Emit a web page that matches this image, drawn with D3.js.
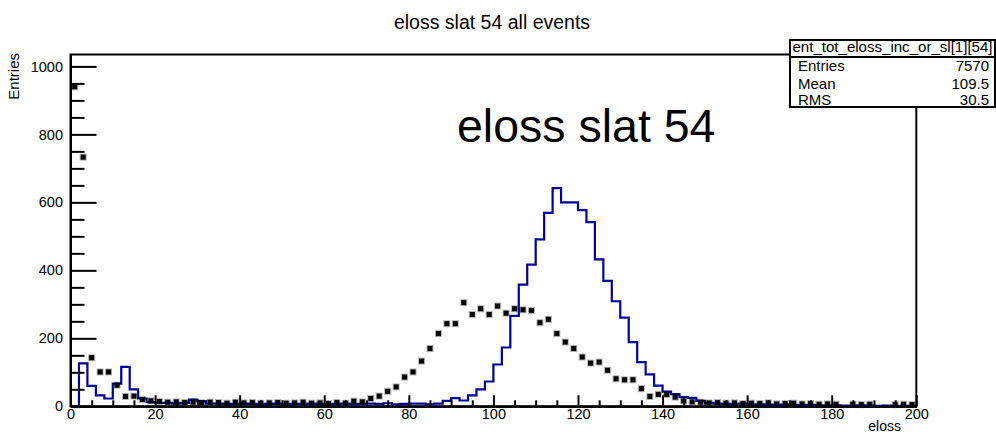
<!DOCTYPE html>
<html>
<head>
<meta charset="utf-8">
<script src="https://cdn.jsdelivr.net/npm/d3@7"></script>
<style>
  html, body { margin: 0; padding: 0; background: #fff; }
  svg { display: block; font-family: "Liberation Sans", Arial, sans-serif; }
</style>
</head>
<body>
<svg id="chart" width="996" height="434"></svg>
<script>
// eloss histograms, 100 bins of width 2 from 0 to 200
const binLow = d3.range(0, 200, 2);

// selected slat (blue outline)
const slatCounts = [
  0, 126, 60, 32, 23, 67, 116, 50, 23, 12,
  10, 10, 8, 10, 20, 15, 8, 8, 7, 6,
  8, 7, 6, 7, 8, 6, 7, 6, 8, 7,
  6, 7, 8, 6, 7, 8, 7, 9, 6, 7,
  8, 8, 6, 8, 16, 24, 17, 32, 50, 73,
  123, 173, 266, 358, 417, 491, 569, 642, 600, 600,
  577, 542, 432, 369, 309, 261, 189, 130, 94, 61,
  43, 36, 27, 25, 16, 10, 8, 7, 6, 8,
  5, 6, 5, 4, 5, 4, 3, 4, 3, 2,
  3, 2, 2, 3, 2, 1, 2, 1, 1, 1
];

// all events (black markers)
const allCounts = [
  940, 733, 143, 101, 101, 62, 29, 30, 20, 16,
  14, 12, 13, 11, 12, 10, 12, 11, 9, 12,
  10, 11, 9, 10, 11, 9, 10, 12, 9, 10,
  8, 11, 9, 15, 13, 23, 30, 44, 57, 86,
  101, 133, 170, 214, 243, 243, 305, 270, 287, 270,
  295, 274, 287, 284, 282, 246, 256, 214, 189, 170,
  145, 127, 130, 106, 81, 78, 78, 52, 29, 35,
  35, 27, 16, 13, 12, 10, 11, 9, 10, 8,
  9, 8, 10, 7, 8, 9, 7, 8, 6, 7,
  6, 0, 6, 5, 6, 0, 0, 5, 6, 5
];

const xMajor = d3.range(0, 201, 20);
const xMinor = d3.range(0, 201, 5).filter(v => v % 20 !== 0);
const yMajor = d3.range(0, 1001, 200);
const yMinor = d3.range(0, 1035, 50).filter(v => v % 200 !== 0);

const statsName = "ent_tot_eloss_inc_or_sl[1][54]";
const statsRows = [["Entries", "7570"], ["Mean", "109.5"], ["RMS", "30.5"]];

const svg = d3.select("#chart");

const x = d3.scaleLinear().domain([0, 200]).range([70.5, 916.3]);
const y = d3.scaleLinear().domain([0, 1035]).range([406.3, 54.5]);

// frame
svg.append("rect")
  .attr("x", x(0)).attr("y", y(1035))
  .attr("width", x(200) - x(0)).attr("height", y(0) - y(1035))
  .attr("fill", "none").attr("stroke", "#000").attr("stroke-width", 2);

// blue outline histogram
const stepPts = binLow.map((b, i) => [b, slatCounts[i]]);
stepPts.push([200, slatCounts[slatCounts.length - 1]]);
svg.append("path")
  .datum(stepPts)
  .attr("fill", "none")
  .attr("stroke", "#000099")
  .attr("stroke-width", 2.2)
  .attr("d", d3.line()
    .x(d => x(d[0]))
    .y(d => y(d[1]))
    .curve(d3.curveStepAfter));

// black markers at bin centres
svg.append("g")
  .selectAll("rect")
  .data(binLow.map((b, i) => ({ c: b + 1, v: allCounts[i] })).filter(d => d.v > 0))
  .join("rect")
  .attr("x", d => x(d.c) - 2.5)
  .attr("y", d => y(d.v) - 2.5)
  .attr("width", 5).attr("height", 5)
  .attr("fill", "#000")
  .attr("stroke", "rgba(0,0,0,0.3)")
  .attr("stroke-width", 2);

// axes
function styleAxis(g) {
  g.selectAll("path.domain").attr("stroke", "#000").attr("stroke-width", 2);
  g.selectAll(".tick line").attr("stroke", "#000").attr("stroke-width", 2);
  g.selectAll(".tick text")
    .attr("fill", "#000")
    .style("font-family", "'Liberation Sans', Arial, sans-serif")
    .style("font-size", "14.5px");
}

svg.append("g")
  .attr("transform", `translate(0,${y(0)})`)
  .call(d3.axisBottom(x).tickValues(xMinor).tickSize(-6).tickSizeOuter(0).tickFormat(""))
  .call(styleAxis);
svg.append("g")
  .attr("transform", `translate(0,${y(0)})`)
  .call(d3.axisBottom(x).tickValues(xMajor).tickSize(-11).tickSizeOuter(0).tickPadding(2).tickFormat(d3.format("d")))
  .call(styleAxis);

svg.append("g")
  .attr("transform", `translate(${x(0)},0)`)
  .call(d3.axisLeft(y).tickValues(yMinor).tickSize(-14).tickSizeOuter(0).tickFormat(""))
  .call(styleAxis);
svg.append("g")
  .attr("transform", `translate(${x(0)},0)`)
  .call(d3.axisLeft(y).tickValues(yMajor).tickSize(-26).tickSizeOuter(0).tickPadding(7.5).tickFormat(d3.format("d")))
  .call(styleAxis);

// axis titles
svg.append("text")
  .attr("transform", "translate(19,53) rotate(-90)")
  .attr("text-anchor", "end")
  .style("font-size", "15px")
  .text("Entries");
svg.append("text")
  .attr("x", 901).attr("y", 431)
  .attr("text-anchor", "end")
  .style("font-size", "14px")
  .text("eloss");

// title
svg.append("text")
  .attr("x", 492).attr("y", 29)
  .attr("text-anchor", "middle")
  .style("font-size", "19.5px")
  .text("eloss slat 54 all events");

// label inside the frame
svg.append("text")
  .attr("x", 457).attr("y", 141.5)
  .style("font-size", "46.5px")
  .text("eloss slat 54");

// statistics box
const sb = { x0: 790, x1: 995, y0: 40, y1: 107, sep: 57 };
svg.append("rect")
  .attr("x", sb.x0).attr("y", sb.y0)
  .attr("width", sb.x1 - sb.x0).attr("height", sb.y1 - sb.y0)
  .attr("fill", "#fff").attr("stroke", "#000").attr("stroke-width", 2);
svg.append("line")
  .attr("x1", sb.x0).attr("x2", sb.x1)
  .attr("y1", sb.sep).attr("y2", sb.sep)
  .attr("stroke", "#000").attr("stroke-width", 2);
svg.append("text")
  .attr("x", (sb.x0 + sb.x1) / 2).attr("y", 52)
  .attr("text-anchor", "middle")
  .style("font-size", "15px")
  .attr("textLength", 200).attr("lengthAdjust", "spacingAndGlyphs")
  .text(statsName);
const rowBase = [71, 89, 105];
statsRows.forEach((r, i) => {
  svg.append("text").attr("x", 798).attr("y", rowBase[i])
    .style("font-size", "15px").text(r[0]);
  svg.append("text").attr("x", 989).attr("y", rowBase[i])
    .attr("text-anchor", "end").style("font-size", "15px").text(r[1]);
});
</script>
</body>
</html>
